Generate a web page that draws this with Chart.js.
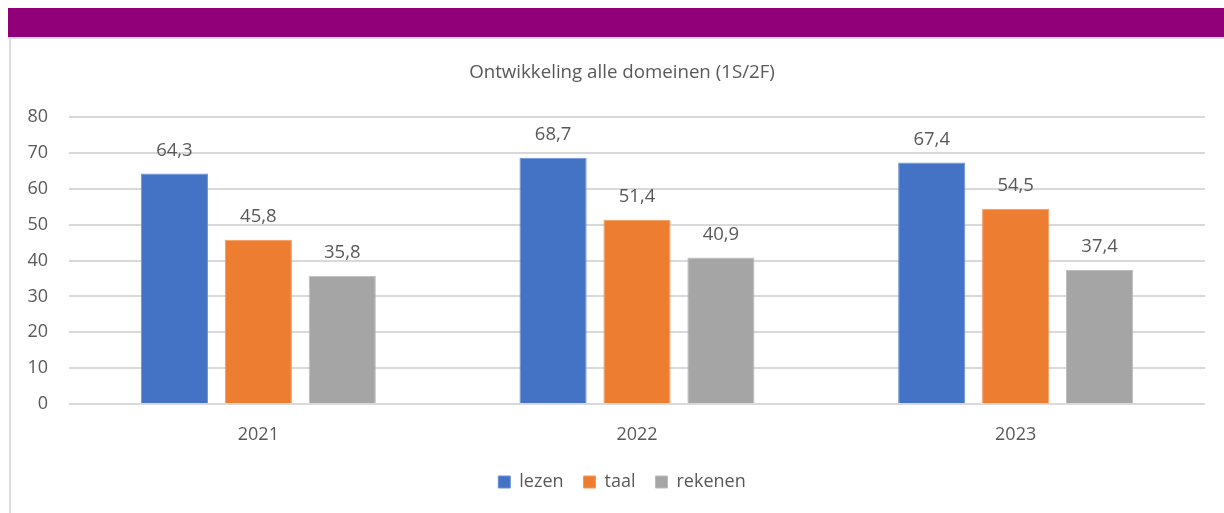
<!DOCTYPE html>
<html>
<head>
<meta charset="utf-8">
<script src="https://cdn.jsdelivr.net/npm/chart.js@4"></script>
<style>
  html, body { margin: 0; padding: 0; background: #fff; width: 1224px; height: 513px; overflow: hidden; }
  #band { position: absolute; left: 8px; top: 8px; width: 1216px; height: 29px; background: #920079; }
  #topline { position: absolute; left: 8px; top: 37px; width: 1216px; height: 2px; background: #dcdcdc; }
  #leftline { position: absolute; left: 9px; top: 37px; width: 2px; height: 476px; background: #dcdcdc; }
  #wrap { position: absolute; left: 11px; top: 39px; width: 1213px; height: 474px; }
</style>
</head>
<body>
<div id="band"></div>
<div id="topline"></div>
<div id="leftline"></div>
<div id="wrap"><canvas id="c"></canvas></div>
<script>
const categories = ['2021', '2022', '2023'];
const lezen = [64.3, 68.7, 67.4];
const taal = [45.8, 51.4, 54.5];
const rekenen = [35.8, 40.9, 37.4];
const seriesNames = ['lezen', 'taal', 'rekenen'];
const chartTitle = 'Ontwikkeling alle domeinen (1S/2F)';

const FONT = '"Open Sans", sans-serif';
const TXT = '#595959';

const valueLabels = {
  id: 'valueLabels',
  afterDatasetsDraw(chart) {
    const ctx = chart.ctx;
    ctx.save();
    ctx.font = '18.5px ' + FONT;
    ctx.fillStyle = TXT;
    ctx.textAlign = 'center';
    ctx.textBaseline = 'middle';
    chart.data.datasets.forEach((ds, i) => {
      chart.getDatasetMeta(i).data.forEach((bar, j) => {
        const v = ds.data[j];
        ctx.fillText(v.toFixed(1).replace('.', ','), bar.x, bar.y - 23);
      });
    });
    ctx.restore();
  }
};

// centre title and legend over the whole panel rather than the canvas box
const shiftBlocks = {
  id: 'shiftBlocks',
  afterLayout(chart) {
    const dx = 14;
    [chart.titleBlock, chart.legend].forEach(b => {
      if (b) { b.left += dx; b.right += dx; }
    });
  }
};

new Chart(document.getElementById('c'), {
  type: 'bar',
  data: {
    labels: categories,
    datasets: [
      { label: seriesNames[0], data: lezen, backgroundColor: '#4472C4', borderColor: '#6a90d4', borderWidth: 1 },
      { label: seriesNames[1], data: taal, backgroundColor: '#ED7D31', borderColor: '#f39a5c', borderWidth: 1 },
      { label: seriesNames[2], data: rekenen, backgroundColor: '#A5A5A5', borderColor: '#bdbdbd', borderWidth: 1 }
    ]
  },
  options: {
    responsive: true,
    maintainAspectRatio: false,
    animation: false,
    datasets: { bar: { categoryPercentage: 0.665, barPercentage: 0.8 } },
    layout: { padding: { left: 0, right: 19, top: 0, bottom: 12 } },
    plugins: {
      title: {
        display: true, text: chartTitle, color: TXT,
        font: { family: FONT, size: 18.7, weight: 'normal' },
        padding: { top: 22, bottom: 33.8 }
      },
      legend: {
        position: 'bottom',
        labels: {
          color: TXT, font: { family: FONT, size: 18 },
          boxWidth: 12, boxHeight: 12, padding: 20
        }
      },
      tooltip: { enabled: false }
    },
    scales: {
      x: {
        grid: { display: false, drawTicks: false },
        border: { display: false },
        ticks: { color: TXT, font: { family: FONT, size: 18 }, padding: 20 },
        afterFit(scale) { scale.height = 49; }
      },
      y: {
        min: 0, max: 80,
        grid: { color: '#d9d9d9', lineWidth: 2, drawTicks: false },
        border: { display: false },
        ticks: { stepSize: 10, color: TXT, font: { family: FONT, size: 18 }, padding: 21 },
        afterFit(scale) { scale.width = 58; }
      }
    }
  },
  plugins: [valueLabels, shiftBlocks]
});
</script>
</body>
</html>
